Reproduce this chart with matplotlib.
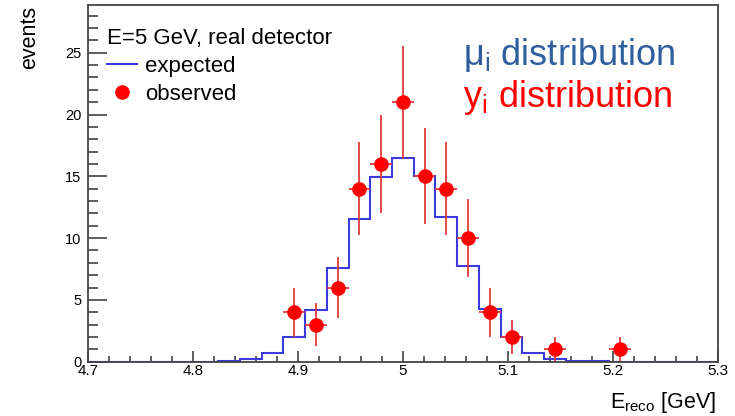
import numpy as np
import matplotlib
matplotlib.use("Agg")
import matplotlib.pyplot as plt
from matplotlib.lines import Line2D
from matplotlib.ticker import MultipleLocator

plt.rcParams['font.family'] = ['Liberation Sans', 'DejaVu Sans']
plt.rcParams['mathtext.fontset'] = 'custom'
plt.rcParams['mathtext.rm'] = 'Liberation Sans'
plt.rcParams['mathtext.it'] = 'Liberation Sans'
plt.rcParams['mathtext.default'] = 'regular'

# ---- data ----
x_min, x_max, n_bins = 4.7, 5.3, 29
expected = [0, 0, 0, 0, 0, 0, 0.05, 0.2, 0.68, 1.97, 4.2, 7.6, 11.57, 14.97,
            16.5, 15.05, 11.7, 7.74, 4.24, 2.02, 0.68, 0.2, 0.05, 0.02,
            0, 0, 0, 0, 0]
observed = [0, 0, 0, 0, 0, 0, 0, 0, 0, 4, 3, 6, 14, 16,
            21, 15, 14, 10, 4, 2, 0, 1, 0, 0,
            1, 0, 0, 0, 0]
header = "E=5 GeV, real detector"
label_exp = "expected"
label_obs = "observed"

edges = np.linspace(x_min, x_max, n_bins + 1)
centers = 0.5 * (edges[:-1] + edges[1:])
width = edges[1] - edges[0]
obs = np.array(observed, dtype=float)
mask = obs > 0

W, H = 735, 416
fig = plt.figure(figsize=(W / 100, H / 100), dpi=100)
ax = fig.add_axes([87.7 / W, 1 - 361.7 / H, (718 - 87.7) / W, (361.7 - 5) / H])

blue = '#3b3bdc'
red = '#ff0000'
ax.stairs(expected, edges, color=blue, lw=1.5, zorder=2)
ax.errorbar(centers[mask], obs[mask], xerr=width / 2, yerr=np.sqrt(obs[mask]),
            fmt='o', color=red, ecolor='#e23a3a', elinewidth=1.3, ms=9.5,
            capsize=0, zorder=3)

ax.set_xlim(x_min, x_max)
ax.set_ylim(0, 28.86)
ax.xaxis.set_major_locator(MultipleLocator(0.1))
ax.xaxis.set_minor_locator(MultipleLocator(0.02))
ax.yaxis.set_major_locator(MultipleLocator(5))
ax.yaxis.set_minor_locator(MultipleLocator(1))
ax.xaxis.set_major_formatter(matplotlib.ticker.FuncFormatter(lambda v, p: f"{v:g}"))

for s in ax.spines.values():
    s.set_color('#444444')
    s.set_linewidth(1.3)
    s.set_zorder(4)
ax.tick_params(axis='x', which='major', direction='in', length=8, width=1.1,
               color='#333333', labelsize=11, pad=1.5, top=False)
ax.tick_params(axis='x', which='minor', direction='in', length=4, width=1.1,
               color='#333333', top=False)
ax.tick_params(axis='y', which='major', direction='in', length=14, width=1.1,
               color='#333333', labelsize=10.5, pad=4.5, right=False)
ax.tick_params(axis='y', which='minor', direction='in', length=7, width=1.1,
               color='#333333', right=False)

# axis titles
fig.text(30 / W, 1 - 6 / H, "events", rotation=90, ha='center', va='top',
         fontsize=15.5)
fig.text(716 / W, 1 - 408 / H, "E$_{reco}$ [GeV]", ha='right', va='baseline',
         fontsize=15.5)

# legend
handles = [Line2D([], [], color=blue, lw=1.5),
           Line2D([], [], ls='none', marker='o', color=red, ms=9.5)]
leg = ax.legend(handles, [label_exp, label_obs], title=header,
                loc='upper left', bbox_to_anchor=(107 / W, 1 - 28 / H),
                bbox_transform=fig.transFigure, frameon=False,
                fontsize=16, title_fontsize=16, handlelength=1.35,
                handletextpad=0.36, labelspacing=0.31, borderaxespad=0,
                borderpad=0, alignment='left')

# big annotations
fig.text(463 / W, 1 - 65 / H, "$\\mathregular{μ_i}$ distribution",
         color='#2f5f9f', fontsize=26, va='baseline', ha='left')
fig.text(463 / W, 1 - 107 / H, "$\\mathregular{y_i}$ distribution",
         color=red, fontsize=26, va='baseline', ha='left')

fig.savefig('out.png', dpi=100)
